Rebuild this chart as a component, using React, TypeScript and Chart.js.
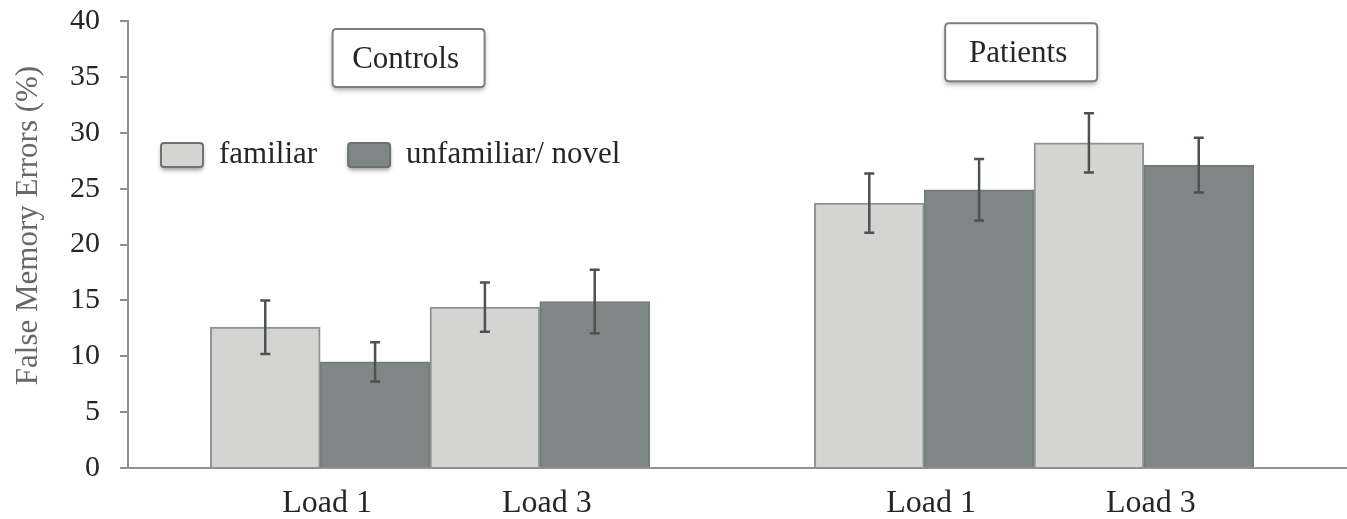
import React, { useEffect, useRef } from "react";
import { Chart, registerables } from "chart.js";

Chart.register(...registerables);

// ---- data ----
const GROUP_NAMES = ["Controls", "Patients"];
const LOAD_LABELS = ["Load 1", "Load 3", "Load 1", "Load 3"];
const GROUP_X = [1.75, 3.75, 7.25, 9.25];
const SERIES_NAMES = ["familiar", "unfamiliar/ novel"];
const FAMILIAR = [12.6, 14.4, 23.7, 29.1];
const FAMILIAR_ERR = [2.4, 2.2, 2.65, 2.65];
const UNFAMILIAR = [9.5, 14.9, 24.9, 27.1];
const UNFAMILIAR_ERR = [1.75, 2.85, 2.75, 2.45];
const Y_TICKS = [0, 5, 10, 15, 20, 25, 30, 35, 40];
const Y_TITLE = "False Memory Errors (%)";

// ---- styles ----
const FONT = "'Liberation Serif', 'Times New Roman', serif";
const LIGHT = "#d4d5d2";
const LIGHT_BORDER = "#8f9492";
const DARK = "#7e8785";
const DARK_BORDER = "#737b79";
const AXIS = "#8e9391";
const ERR = "#4b5351";
const TEXT = "#262626";

const ERRORS = [FAMILIAR_ERR, UNFAMILIAR_ERR];
const FILLS = [LIGHT, DARK];
const BORDERS = [LIGHT_BORDER, DARK_BORDER];

const errorBarPlugin = {
  id: "errorBars",
  afterDatasetsDraw(chart: any) {
    const ctx = chart.ctx;
    const ys = chart.scales.y;
    chart.data.datasets.forEach((ds: any, di: number) => {
      const meta = chart.getDatasetMeta(di);
      const errs = ERRORS[di];
      meta.data.forEach((el: any, i: number) => {
        const v = ds.data[i].y;
        const e = errs[i];
        const top = ys.getPixelForValue(v + e);
        const bot = ys.getPixelForValue(v - e);
        const x = el.x;
        ctx.save();
        ctx.strokeStyle = ERR;
        ctx.lineWidth = 2.5;
        ctx.beginPath();
        ctx.moveTo(x, top);
        ctx.lineTo(x, bot);
        ctx.moveTo(x - 5, top);
        ctx.lineTo(x + 5, top);
        ctx.moveTo(x - 5, bot);
        ctx.lineTo(x + 5, bot);
        ctx.stroke();
        ctx.restore();
      });
    });
  },
};

function roundRect(ctx: CanvasRenderingContext2D, x: number, y: number, w: number, h: number, r: number) {
  ctx.beginPath();
  ctx.moveTo(x + r, y);
  ctx.lineTo(x + w - r, y);
  ctx.quadraticCurveTo(x + w, y, x + w, y + r);
  ctx.lineTo(x + w, y + h - r);
  ctx.quadraticCurveTo(x + w, y + h, x + w - r, y + h);
  ctx.lineTo(x + r, y + h);
  ctx.quadraticCurveTo(x, y + h, x, y + h - r);
  ctx.lineTo(x, y + r);
  ctx.quadraticCurveTo(x, y, x + r, y);
  ctx.closePath();
}

const annotationsPlugin = {
  id: "groupBoxesAndLegend",
  afterDraw(chart: any) {
    const ctx: CanvasRenderingContext2D = chart.ctx;
    const xs = chart.scales.x;
    const ys = chart.scales.y;
    const area = chart.chartArea;

    // y axis title
    ctx.save();
    ctx.font = `31px ${FONT}`;
    ctx.fillStyle = "#686868";
    ctx.textAlign = "center";
    ctx.textBaseline = "middle";
    ctx.translate(29, ys.getPixelForValue(21.7));
    ctx.rotate(-Math.PI / 2);
    ctx.fillText(Y_TITLE, 0, 0);
    ctx.restore();

    // group boxes
    const boxAnchors = [
      { x: 2.555, y: 36.7 },
      { x: 8.133, y: 37.2 },
    ];
    ctx.save();
    ctx.font = `31px ${FONT}`;
    GROUP_NAMES.forEach((name, i) => {
      const cx = xs.getPixelForValue(boxAnchors[i].x);
      const cy = ys.getPixelForValue(boxAnchors[i].y);
      const w = 152;
      const h = 58;
      ctx.save();
      ctx.shadowColor = "rgba(0,0,0,0.35)";
      ctx.shadowBlur = 5;
      ctx.shadowOffsetY = 3;
      roundRect(ctx, cx - w / 2, cy - h / 2, w, h, 4);
      ctx.fillStyle = "#ffffff";
      ctx.fill();
      ctx.restore();
      roundRect(ctx, cx - w / 2, cy - h / 2, w, h, 4);
      ctx.strokeStyle = "#7d7f7e";
      ctx.lineWidth = 2;
      ctx.stroke();
      ctx.fillStyle = TEXT;
      ctx.textAlign = "center";
      ctx.textBaseline = "middle";
      ctx.fillText(name, cx - 3, cy + 2);
    });

    // legend
    let lx = area.left + 33;
    const ly = ys.getPixelForValue(28.0);
    SERIES_NAMES.forEach((name, i) => {
      const sw = 42;
      const sh = 24;
      ctx.save();
      ctx.shadowColor = "rgba(0,0,0,0.4)";
      ctx.shadowBlur = 4;
      ctx.shadowOffsetY = 3;
      roundRect(ctx, lx, ly - sh / 2, sw, sh, 3);
      ctx.fillStyle = FILLS[i];
      ctx.fill();
      ctx.restore();
      roundRect(ctx, lx, ly - sh / 2, sw, sh, 3);
      ctx.strokeStyle = i === 0 ? "#6f7472" : "#6a7270";
      ctx.lineWidth = 2;
      ctx.stroke();
      ctx.fillStyle = TEXT;
      ctx.textAlign = "left";
      ctx.textBaseline = "middle";
      const tx = lx + sw + 16;
      ctx.fillText(name, tx, ly);
      lx = tx + ctx.measureText(name).width + 31;
    });
    ctx.restore();
  },
};

export default function App() {
  const ref = useRef<HTMLCanvasElement | null>(null);

  useEffect(() => {
    if (!ref.current) return;
    const chart = new Chart(ref.current, {
      type: "bar",
      data: {
        datasets: [FAMILIAR, UNFAMILIAR].map((vals, di) => ({
          label: SERIES_NAMES[di],
          data: vals.map((v, i) => ({ x: GROUP_X[i], y: v })),
          backgroundColor: FILLS[di],
          borderColor: BORDERS[di],
          borderWidth: 2,
          borderSkipped: "bottom",
          categoryPercentage: 1,
          barPercentage: 1,
        })),
      },
      options: {
        animation: false,
        responsive: false,
        layout: { padding: { top: 21, right: 0, left: 0, bottom: 0 } },
        plugins: {
          legend: { display: false },
          tooltip: { enabled: false },
        },
        scales: {
          x: {
            type: "linear",
            offset: false,
            min: 0,
            max: 11.1,
            grid: { display: false, drawTicks: false, offset: false },
            border: { display: true, color: AXIS, width: 2 },
            afterBuildTicks: (scale: any) => {
              scale.ticks = GROUP_X.map((v) => ({ value: v }));
            },
            afterFit: (scale: any) => {
              scale.height = 51;
              scale.paddingLeft = 0;
              scale.paddingRight = 0;
            },
            ticks: {
              autoSkip: false,
              maxRotation: 0,
              padding: 16,
              labelOffset: 7,
              color: TEXT,
              font: { family: FONT, size: 32 },
              callback: (_v: any, i: number) => LOAD_LABELS[i],
            },
          },
          y: {
            min: 0,
            max: 40,
            afterBuildTicks: (scale: any) => {
              scale.ticks = Y_TICKS.map((v) => ({ value: v }));
            },
            afterFit: (scale: any) => {
              scale.width = 128;
              scale.paddingTop = 0;
              scale.paddingBottom = 0;
            },
            grid: {
              display: true,
              drawOnChartArea: false,
              drawTicks: true,
              tickLength: 8,
              color: AXIS,
              lineWidth: 2,
            },
            border: { display: true, color: AXIS, width: 2 },
            ticks: {
              padding: 20,
              color: TEXT,
              font: { family: FONT, size: 30 },
            },
          },
        },
      },
      plugins: [errorBarPlugin, annotationsPlugin],
    } as any);
    return () => chart.destroy();
  }, []);

  return (
    <div style={{ position: "fixed", left: 0, top: 0, width: 1347, height: 519, background: "#fff" }}>
      <canvas ref={ref} width={1347} height={519} style={{ display: "block" }} />
    </div>
  );
}
